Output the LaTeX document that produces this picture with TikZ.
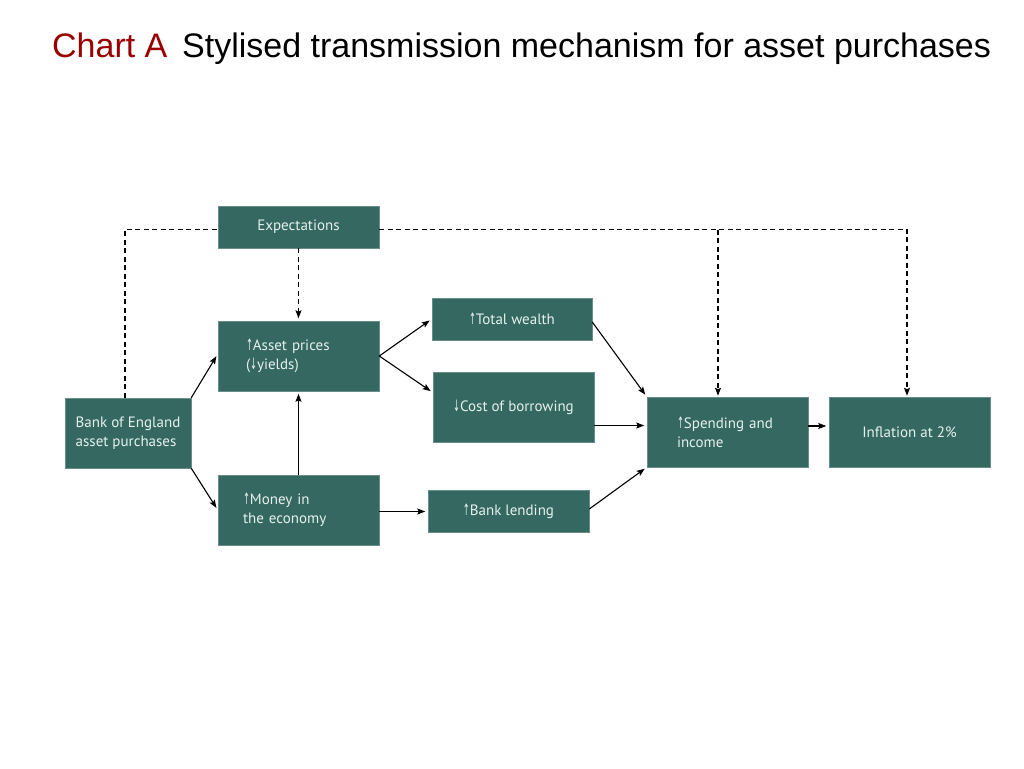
\documentclass[tikz,border=0pt]{standalone}
\usepackage{fontspec}
\setmainfont{PT Sans}
\newfontfamily\titlefont{Liberation Sans}
\newfontfamily\arrowfont{DejaVu Sans}
\usetikzlibrary{arrows.meta,calc}
\definecolor{boxteal}{RGB}{52,104,97}
\definecolor{boxtext}{RGB}{230,241,237}
\definecolor{titlered}{RGB}{153,0,0}
\newcommand{\upar}{\scalebox{0.55}[1.05]{\arrowfont ↑}}
\newcommand{\dnar}{\scalebox{0.55}[1.05]{\arrowfont ↓}}
\begin{document}
\begin{tikzpicture}[x=1pt,y=-1pt,
  box/.style={draw=boxteal!75!white, line width=0.5pt, fill=boxteal, text=boxtext,
    font=\fontsize{15}{19}\selectfont, inner sep=0pt, align=center,
    minimum width=161pt, minimum height=42pt},
  tallbox/.style={box, minimum height=70pt},
  leftbox/.style={tallbox, align=left, inner xsep=#1, text width=161pt-2*#1},
  conn/.style={line width=1.1pt, black, -{Stealth[length=8pt,width=6pt,inset=1.5pt]}, shorten >=2.5pt},
  dsh/.style={line width=1.1pt, black, dash pattern=on 5pt off 3.5pt},
  titletext/.style={anchor=base west, inner sep=0pt, font=\titlefont\fontsize{34}{34}\selectfont}
]
\useasboundingbox (0,0) rectangle (1024,768);
\fill[white] (0,0) rectangle (1024,768);

% title
\node[titletext, text=titlered] (charta) at (52,58) {Chart A};
\node[titletext, text=black] (title) at (182,58) {Stylised transmission mechanism for asset purchases};

% boxes
\node[box] (exp) at (298.5,227) {Expectations};
\node[leftbox=28pt] (asset) at (298.5,356) {\upar Asset prices\\(\dnar yields)};
\node[box, minimum width=160pt] (wealth) at (512,319) {\upar Total wealth};
\node[tallbox] (cost) at (513.5,407.5) {\dnar Cost of borrowing};
\node[tallbox, minimum width=126pt, align=left] (boe) at (128,433) {Bank of England\\asset purchases};
\node[leftbox=25pt] (money) at (298.5,510) {\upar Money in\\the economy};
\node[box] (lending) at (508.5,511) {\upar Bank lending};
\node[leftbox=30pt] (spend) at (727.5,432) {\upar Spending and\\income};
\node[tallbox] (infl) at (909.5,432) {Inflation at 2\%};

% dashed expectation links
\coordinate (dl) at (125,229.5);
\coordinate (dm) at (718,229.5);
\coordinate (dr) at (907,229.5);
\draw[dsh] (boe.north -| dl) |- (exp.west |- dl);
\draw[dsh, -{Stealth[length=8pt,width=6pt,inset=1.5pt]}, shorten >=1pt] (exp.east |- dl) -| (infl.north -| dr);
\draw[dsh, -{Stealth[length=8pt,width=6pt,inset=1.5pt]}, shorten >=1pt] (dm) -- (dm |- spend.north);
\draw[dsh, -{Stealth[length=8pt,width=6pt,inset=1.5pt]}, shorten >=2.5pt] (exp.south) -- (asset.north);

% solid connectors
\draw[conn] (boe.north east) -- ([yshift=2pt]asset.west);
\draw[conn] (boe.south east) -- (money.west);
\draw[conn] (money.north) -- (asset.south);
\draw[conn] (asset.east) -- (wealth.west);
\draw[conn] (asset.east) -- ([yshift=15pt]cost.west);
\draw[conn] ([yshift=-1.5pt]money.east) coordinate (m1) -- (m1 -| lending.west);
\draw[conn] ([yshift=-3pt]wealth.east) -- (spend.north west);
\draw[conn] ([yshift=-18pt]cost.east) coordinate (c1) -- (c1 -| spend.west);
\draw[conn] ([yshift=2pt]lending.east) -- (spend.south west);
\draw[conn] ([yshift=6pt]spend.east) coordinate (s1) -- (s1 -| infl.west);
\end{tikzpicture}
\end{document}
